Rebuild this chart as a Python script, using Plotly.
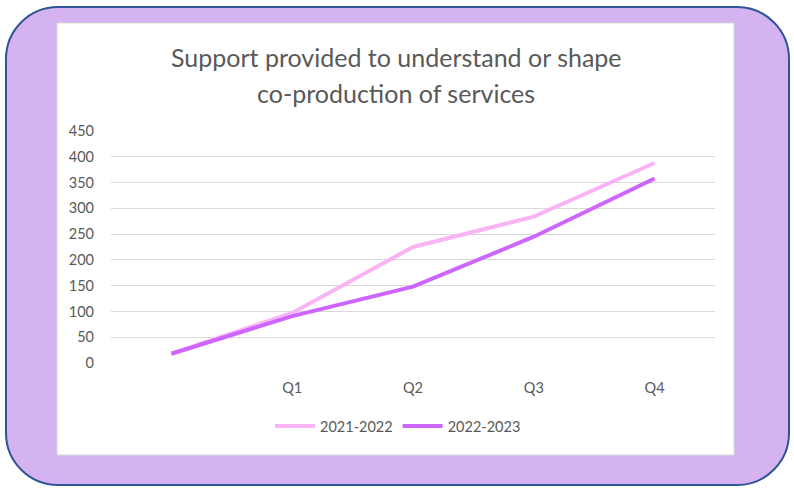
import plotly.graph_objects as go

# Quarterly series (first category is the unlabelled starting point)
categories = [" ", "Q1", "Q2", "Q3", "Q4"]
series_2021_2022 = [18, 97, 225, 284, 388]
series_2022_2023 = [18, 91, 148, 245, 358]
y_ticks = [0, 50, 100, 150, 200, 250, 300, 350, 400, 450]

W, H = 794, 491
PL, PR, PT, PB = 111, 715, 131, 363  # plot area in pixels


def px(x):
    return (x - PL) / (PR - PL)


def py(y):
    return (PB - y) / (PB - PT)


def rounded_rect(x0, y0, x1, y1, r):
    k = 0.5523 * r
    pts = [
        ("M", [(x0 + r, y0)]),
        ("L", [(x1 - r, y0)]),
        ("C", [(x1 - r + k, y0), (x1, y0 + r - k), (x1, y0 + r)]),
        ("L", [(x1, y1 - r)]),
        ("C", [(x1, y1 - r + k), (x1 - r + k, y1), (x1 - r, y1)]),
        ("L", [(x0 + r, y1)]),
        ("C", [(x0 + r - k, y1), (x0, y1 - r + k), (x0, y1 - r)]),
        ("L", [(x0, y0 + r)]),
        ("C", [(x0, y0 + r - k), (x0 + r - k, y0), (x0 + r, y0)]),
    ]
    out = []
    for cmd, ps in pts:
        out.append(cmd + " " + " ".join(f"{px(a):.5f},{py(b):.5f}" for a, b in ps))
    return " ".join(out) + " Z"


fig = go.Figure()
fig.add_trace(go.Scatter(
    x=categories, y=series_2021_2022, name="2021-2022", mode="lines",
    line=dict(color="#F9B4F6", width=4),
))
fig.add_trace(go.Scatter(
    x=categories, y=series_2022_2023, name="2022-2023", mode="lines",
    line=dict(color="#CC66FF", width=4),
))

shapes = [
    dict(type="path", xref="paper", yref="paper", layer="below",
         path=rounded_rect(6, 7, 789, 485, 52),
         fillcolor="#D5B2F0", line=dict(color="#2F5597", width=2)),
    dict(type="rect", xref="paper", yref="paper", layer="below",
         x0=px(57), x1=px(734), y0=py(23), y1=py(455),
         fillcolor="#FFFFFF", line=dict(color="#D9D9D9", width=1)),
]

title_font = dict(size=25, color="#595959", family="Lato")
annotations = [
    dict(text="Support provided to understand or shape", x=px(396), y=py(57),
         xref="paper", yref="paper", showarrow=False, xanchor="center", yanchor="middle",
         font=title_font),
    dict(text="co-production of services", x=px(396), y=py(93),
         xref="paper", yref="paper", showarrow=False, xanchor="center", yanchor="middle",
         font=title_font),
]

fig.update_layout(
    width=W, height=H,
    margin=dict(l=PL, r=W - PR, t=PT, b=H - PB),
    paper_bgcolor="#FFFFFF",
    plot_bgcolor="rgba(0,0,0,0)",
    shapes=shapes,
    annotations=annotations,
    font=dict(family="Lato", color="#595959", size=13),
    showlegend=True,
    legend=dict(orientation="h", x=px(398), y=py(426), xanchor="center", yanchor="middle",
                bgcolor="rgba(0,0,0,0)", font=dict(size=14.5, color="#595959"),
                itemwidth=40, tracegroupgap=0),
    xaxis=dict(type="category", categoryorder="array", categoryarray=categories,
               range=[-0.5, 4.5], showgrid=False, zeroline=False, showline=False,
               ticks="", ticklabelstandoff=14, tickfont=dict(size=14.5, color="#595959"),
               fixedrange=True),
    yaxis=dict(range=[0, 450], tickvals=y_ticks, showgrid=True, gridcolor="#D9D9D9",
               gridwidth=1, zeroline=False, showline=False, ticks="",
               ticklabelstandoff=16, tickfont=dict(size=14.5, color="#595959"),
               fixedrange=True),
)

fig.write_html("out.html")
